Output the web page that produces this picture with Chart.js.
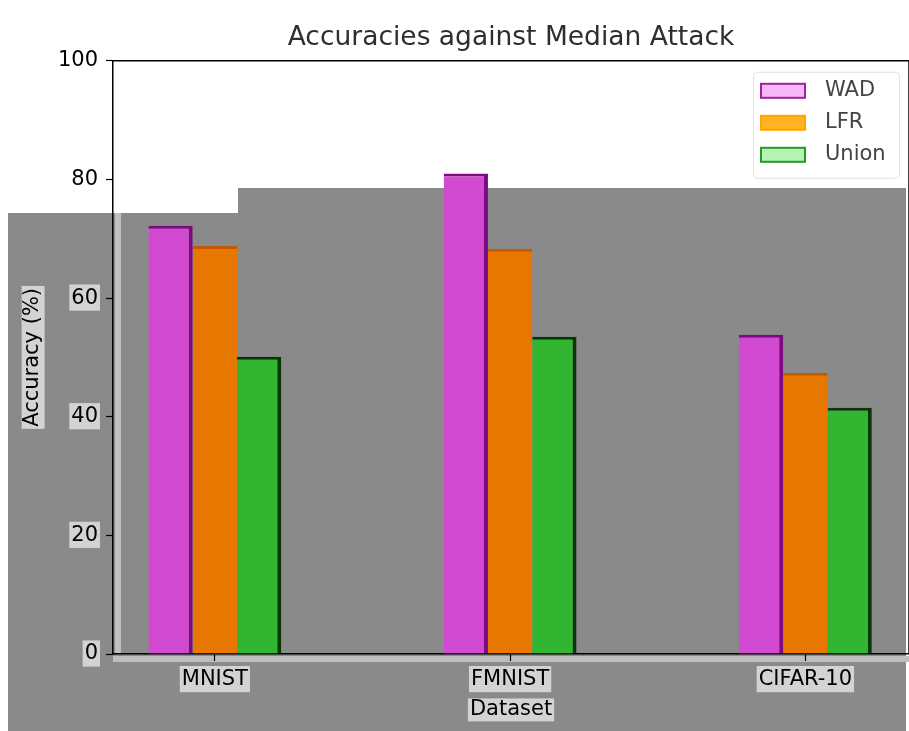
<!DOCTYPE html>
<html>
<head>
<meta charset="utf-8">
<script src="https://cdn.jsdelivr.net/npm/chart.js@4/dist/chart.umd.min.js"></script>
<style>
  html, body { margin: 0; padding: 0; background: #ffffff; }
  #wrap { width: 909px; height: 731px; }
</style>
</head>
<body>
<div id="wrap"><canvas id="chart" width="909" height="731"></canvas></div>
<script>
// Accuracy (%) of each defence under the median attack, per dataset
const datasetNames = ['MNIST', 'FMNIST', 'CIFAR-10'];
const seriesNames = ['WAD', 'LFR', 'Union'];
const wadAcc = [72.2, 81.0, 53.8];
const lfrAcc = [68.8, 68.3, 47.4];
const unionAcc = [50.1, 53.5, 41.5];
const yTickValues = [0, 20, 40, 60, 80, 100];

const FONT = "'DejaVu Sans', 'Liberation Sans', sans-serif";
const LABEL_SIZE = 21;

const toPoints = arr => arr.map((v, i) => ({ x: i, y: v }));

// grey backdrop behind the lower part of the figure, plus light boxes behind axis titles
const backdropPlugin = {
  id: 'backdrop',
  beforeDraw(chart) {
    const ctx = chart.ctx;
    const W = chart.width, H = chart.height;
    const a = chart.chartArea;
    ctx.save();
    ctx.fillStyle = '#ffffff';
    ctx.fillRect(0, 0, W, H);
    ctx.fillStyle = '#8a8a8a';
    ctx.beginPath();
    ctx.moveTo(8, 213);
    ctx.lineTo(238, 213);
    ctx.lineTo(238, 188);
    ctx.lineTo(W - 3, 188);
    ctx.lineTo(W - 3, H);
    ctx.lineTo(8, H);
    ctx.closePath();
    ctx.fill();

    // soft light strips along the axes
    ctx.fillStyle = '#bfbfbf';
    ctx.fillRect(a.left + 2, 213, 6, a.bottom - 213);
    ctx.fillRect(a.left, a.bottom + 2, a.right - a.left, 6);

    ctx.font = `${LABEL_SIZE}px ${FONT}`;
    ctx.fillStyle = '#d3d3d3';
    const xs = chart.scales.x, ys = chart.scales.y;
    const lh = LABEL_SIZE * 1.2;
    const tw1 = ctx.measureText(xs.options.title.text).width;
    const cx = (a.left + a.right) / 2;
    const cy1 = xs.bottom - (lh / 2 + 9);
    ctx.fillRect(cx - tw1 / 2 - 2, cy1 - 11, tw1 + 4, 23);
    const tw2 = ctx.measureText(ys.options.title.text).width;
    const cx2 = ys.left + 20 + lh / 2;
    const cy2 = (a.top + a.bottom) / 2;
    ctx.fillRect(cx2 - 11, cy2 - tw2 / 2 - 2, 23, tw2 + 4);
    ctx.restore();
  }
};

// top and right spines of the axes frame
const framePlugin = {
  id: 'frame',
  afterDraw(chart) {
    const { ctx, chartArea: a } = chart;
    ctx.save();
    ctx.strokeStyle = '#000000';
    ctx.lineWidth = 1.5;
    ctx.beginPath();
    ctx.moveTo(a.left, a.top);
    ctx.lineTo(a.right, a.top);
    ctx.lineTo(a.right, a.bottom);
    ctx.stroke();
    ctx.restore();
  }
};

// legend box in the upper-right corner of the plot
const legendFill = ['#f7b6f7', '#ffb322', '#b4f3b4'];
const legendEdge = ['#a020a0', '#ffa500', '#239b23'];
const legendPlugin = {
  id: 'innerLegend',
  afterDraw(chart) {
    const { ctx, chartArea: a } = chart;
    const w = 146, h = 106;
    const x0 = a.right - 10 - w, y0 = a.top + 11;
    ctx.save();
    ctx.fillStyle = 'rgba(255,255,255,0.85)';
    ctx.strokeStyle = '#e2e2e2';
    ctx.lineWidth = 1;
    ctx.beginPath();
    ctx.roundRect(x0 + 0.5, y0 + 0.5, w, h, 4);
    ctx.fill();
    ctx.stroke();
    ctx.font = `${LABEL_SIZE}px ${FONT}`;
    ctx.textBaseline = 'middle';
    ctx.textAlign = 'left';
    seriesNames.forEach((name, i) => {
      const cy = y0 + 19 + i * 32;
      ctx.fillStyle = legendFill[i];
      ctx.fillRect(x0 + 8, cy - 7, 44, 14);
      ctx.strokeStyle = legendEdge[i];
      ctx.lineWidth = 2;
      ctx.strokeRect(x0 + 8, cy - 7, 44, 14);
      ctx.fillStyle = '#444444';
      ctx.fillText(name, x0 + 72, cy);
    });
    ctx.restore();
  }
};

const tickBackdrop = c => (c.tick && c.tick.value <= 60) ? '#d3d3d3' : 'rgba(0,0,0,0)';

new Chart(document.getElementById('chart'), {
  type: 'bar',
  data: {
    datasets: [
      {
        label: seriesNames[0],
        data: toPoints(wadAcc),
        backgroundColor: '#d24ad2',
        borderColor: '#7e0a82',
        borderWidth: { top: 3, right: 4, left: 0, bottom: 0 },
        borderSkipped: false
      },
      {
        label: seriesNames[1],
        data: toPoints(lfrAcc),
        backgroundColor: '#e77700',
        borderColor: '#c45a00',
        borderWidth: { top: 3, right: 0, left: 0, bottom: 0 },
        borderSkipped: false
      },
      {
        label: seriesNames[2],
        data: toPoints(unionAcc),
        backgroundColor: '#32b632',
        borderColor: '#063806',
        borderWidth: { top: 3, right: 4, left: 0, bottom: 0 },
        borderSkipped: false
      }
    ]
  },
  options: {
    responsive: false,
    animation: false,
    devicePixelRatio: 1,
    layout: { padding: 0 },
    datasets: { bar: { barPercentage: 1.0, categoryPercentage: 0.45 } },
    plugins: {
      legend: { display: false },
      tooltip: { enabled: false },
      title: {
        display: true,
        fullSize: false,
        text: 'Accuracies against Median Attack',
        color: '#2e2e2e',
        font: { family: FONT, size: 26.5, weight: 'normal' },
        padding: { top: 22, bottom: 7 }
      }
    },
    scales: {
      x: {
        type: 'linear',
        min: -0.345,
        max: 2.351,
        offset: false,
        afterBuildTicks: s => { s.ticks = datasetNames.map((_, i) => ({ value: i })); },
        afterFit: s => { s.height = 77; },
        ticks: {
          callback: v => datasetNames[v],
          color: '#000000',
          font: { family: FONT, size: LABEL_SIZE },
          padding: 6,
          maxRotation: 0,
          autoSkip: false,
          showLabelBackdrop: true,
          backdropColor: '#d3d3d3',
          backdropPadding: { top: 1, bottom: 0, left: 2, right: 2 }
        },
        grid: {
          display: true,
          offset: false,
          drawOnChartArea: false,
          drawTicks: true,
          tickLength: 7,
          tickColor: '#000000',
          tickWidth: 1.2
        },
        border: { display: true, color: '#000000', width: 1.5 },
        title: {
          display: true,
          text: 'Dataset',
          color: '#000000',
          font: { family: FONT, size: LABEL_SIZE },
          padding: { top: 0, bottom: 9 }
        }
      },
      y: {
        min: 0,
        max: 100,
        afterBuildTicks: s => { s.ticks = yTickValues.map(v => ({ value: v })); },
        afterFit: s => { s.width = 113; },
        ticks: {
          color: '#000000',
          font: { family: FONT, size: LABEL_SIZE },
          padding: 8,
          showLabelBackdrop: true,
          backdropColor: tickBackdrop,
          backdropPadding: { top: 1, bottom: 0, left: 2, right: 2 }
        },
        grid: {
          display: true,
          drawOnChartArea: false,
          drawTicks: true,
          tickLength: 7,
          tickColor: '#000000',
          tickWidth: 1.2
        },
        border: { display: true, color: '#000000', width: 1.5 },
        title: {
          display: true,
          text: 'Accuracy (%)',
          color: '#000000',
          font: { family: FONT, size: LABEL_SIZE },
          padding: { top: 20, bottom: 0 }
        }
      }
    }
  },
  plugins: [backdropPlugin, framePlugin, legendPlugin]
});
</script>
</body>
</html>
